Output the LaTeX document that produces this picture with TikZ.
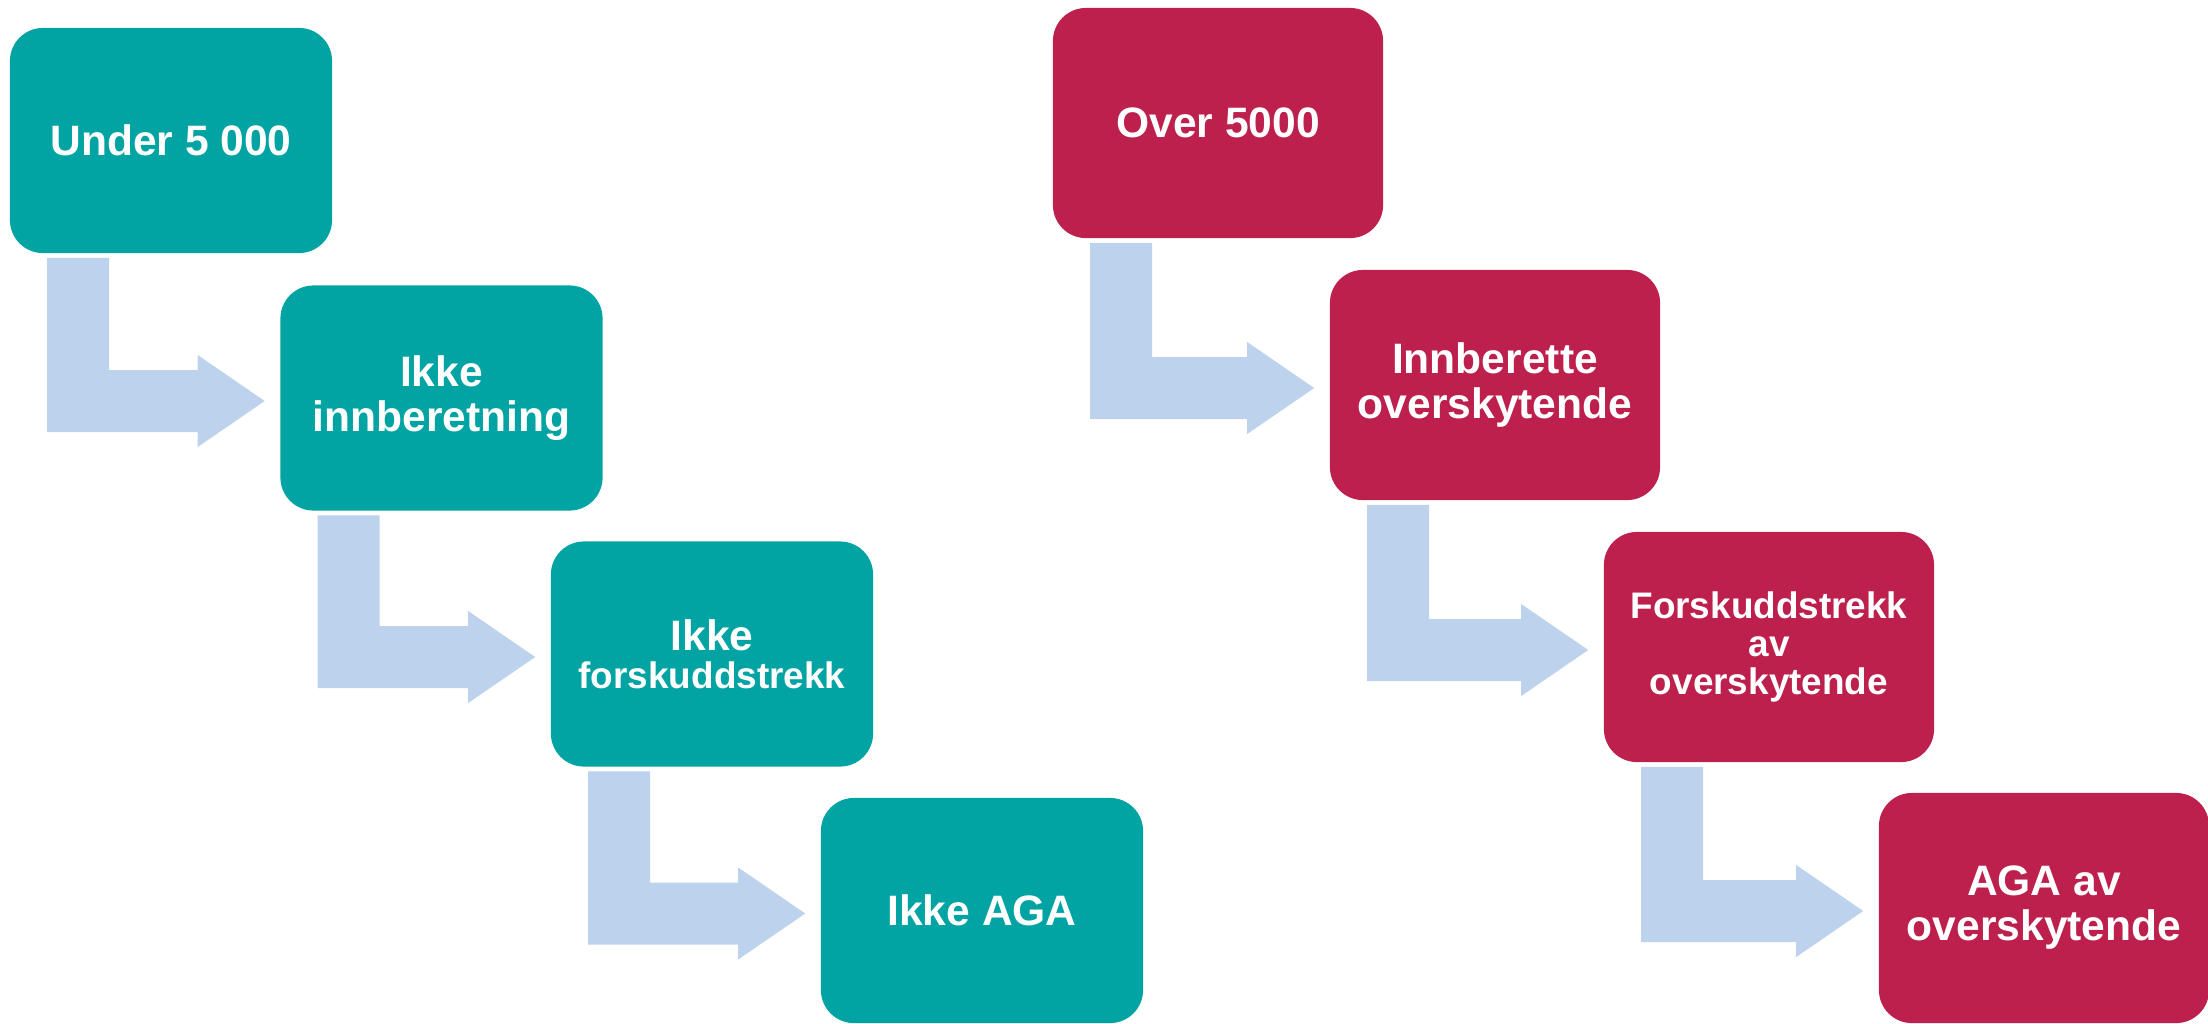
\documentclass[tikz,border=0pt]{standalone}
\usepackage{fontspec}
\setmainfont{Liberation Sans}
\usepackage{xcolor}
\usetikzlibrary{calc}

\definecolor{tealbox}{RGB}{2,164,163}
\definecolor{redbox}{RGB}{189,32,76}
\definecolor{arrowblue}{RGB}{189,210,236}

\tikzset{
    box/.style={rounded corners=0.33cm, text=white, align=center, inner sep=0pt,
        font=\fontsize{12.1}{12.8}\selectfont\bfseries},
    under/.style={box, fill=tealbox, minimum width=3.22cm, minimum height=2.25cm},
    over/.style={box, fill=redbox, minimum width=3.3cm, minimum height=2.3cm},
    flow/.style={fill=arrowblue}
}

% bent block arrow from below one box to the left side of the next
\newcommand{\bentarrow}[2]{%
    \fill[flow] ($(#1.south west)+(38,4)$) coordinate (#1-bend)
        -- ($(#1.south west)+(100,4)$)
        |- ($(#2.west)+(-82,-28)$)
        -- ($(#2.west)+(-82,-43)$)
        -- ($(#2.west)+(-15,3)$)
        -- ($(#2.west)+(-82,49)$)
        -- ($(#2.west)+(-82,34)$)
        -| (#1-bend) -- cycle;}

\begin{document}
\begin{tikzpicture}[x=0.01cm, y=-0.01cm]
    \useasboundingbox (0,0) rectangle (2208,1023);

    % venstre: under 5 000
    \node[under] (under) at (171,140.5) {Under 5 000};
    \node[under] (noreport) at (441.5,398) {Ikke\\innberetning};
    \node[under, font=\fontsize{10.5}{10.8}\selectfont\bfseries] (nowithhold) at (712,654)
        {{\fontsize{12.1}{12.8}\selectfont Ikke}\\forskuddstrekk};
    \node[under] (noaga) at (982,910.5) {Ikke AGA};

    % hoyre: over 5000
    \node[over] (over) at (1218,123) {Over 5000};
    \node[over] (report) at (1495,385) {Innberette\\overskytende};
    \node[over, font=\fontsize{10.5}{10.7}\selectfont\bfseries] (withhold) at (1769,647)
        {Forskuddstrekk\\av\\overskytende};
    \node[over] (aga) at (2044,908) {AGA av\\overskytende};

    % piler
    \bentarrow{under}{noreport}
    \bentarrow{noreport}{nowithhold}
    \bentarrow{nowithhold}{noaga}
    \bentarrow{over}{report}
    \bentarrow{report}{withhold}
    \bentarrow{withhold}{aga}
\end{tikzpicture}
\end{document}
